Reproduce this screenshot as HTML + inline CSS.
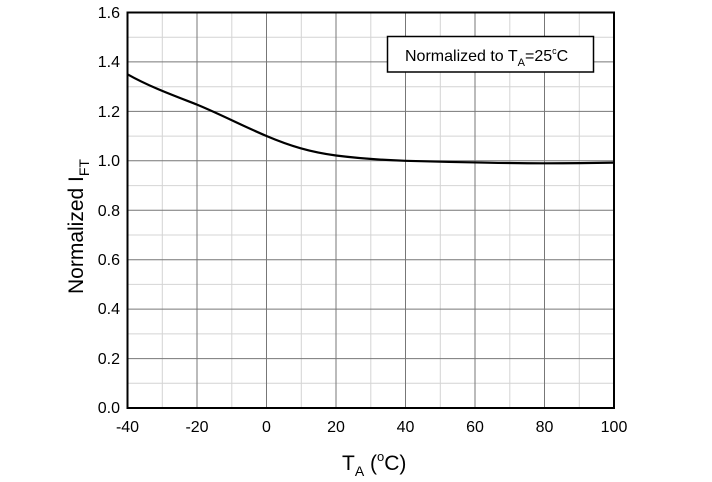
<!DOCTYPE html>
<html><head><style>body{margin:0;background:#fff}svg{display:block}</style></head><body>
<svg width="712" height="482" xmlns="http://www.w3.org/2000/svg" font-family="Liberation Sans, Arial, sans-serif">
<g stroke="#d4d4d4" stroke-width="1">
<line x1="162.3" y1="12.5" x2="162.3" y2="408"/><line x1="231.8" y1="12.5" x2="231.8" y2="408"/><line x1="301.3" y1="12.5" x2="301.3" y2="408"/><line x1="370.8" y1="12.5" x2="370.8" y2="408"/><line x1="440.3" y1="12.5" x2="440.3" y2="408"/><line x1="509.8" y1="12.5" x2="509.8" y2="408"/><line x1="579.3" y1="12.5" x2="579.3" y2="408"/>
<line x1="127.5" y1="37.2" x2="614" y2="37.2"/><line x1="127.5" y1="86.7" x2="614" y2="86.7"/><line x1="127.5" y1="136.1" x2="614" y2="136.1"/><line x1="127.5" y1="185.6" x2="614" y2="185.6"/><line x1="127.5" y1="235" x2="614" y2="235"/><line x1="127.5" y1="284.4" x2="614" y2="284.4"/><line x1="127.5" y1="333.9" x2="614" y2="333.9"/><line x1="127.5" y1="383.3" x2="614" y2="383.3"/>
</g>
<g stroke="#777" stroke-width="1">
<line x1="197" y1="12.5" x2="197" y2="408"/><line x1="266.5" y1="12.5" x2="266.5" y2="408"/><line x1="336" y1="12.5" x2="336" y2="408"/><line x1="405.5" y1="12.5" x2="405.5" y2="408"/><line x1="475" y1="12.5" x2="475" y2="408"/><line x1="544.5" y1="12.5" x2="544.5" y2="408"/>
<line x1="127.5" y1="61.9" x2="614" y2="61.9"/><line x1="127.5" y1="111.4" x2="614" y2="111.4"/><line x1="127.5" y1="160.8" x2="614" y2="160.8"/><line x1="127.5" y1="210.3" x2="614" y2="210.3"/><line x1="127.5" y1="259.7" x2="614" y2="259.7"/><line x1="127.5" y1="309.1" x2="614" y2="309.1"/><line x1="127.5" y1="358.6" x2="614" y2="358.6"/>
</g>
<rect x="127.5" y="12.5" width="486.5" height="395.5" fill="none" stroke="#000" stroke-width="2"/>
<path d="M127.5,74.3 C150,87 175,96 197,104.6 C220,114 245,127 266.5,136 C290,146 310,152 336,155.5 C360,158.5 380,160 405.5,160.8 C450,162 500,163.3 544.5,163.3 C575,163.3 595,163 614,162.6" fill="none" stroke="#000" stroke-width="2.2"/>
<rect x="387.5" y="36.5" width="206" height="35.5" fill="#fff" stroke="#000" stroke-width="1.5"/>
<text x="405" y="61" font-size="16">Normalized to T<tspan font-size="11" dy="5">A</tspan><tspan dy="-5">=25</tspan><tspan font-size="9" dy="-7">c</tspan><tspan dy="7">C</tspan></text>
<g font-size="16" text-anchor="end">
<text x="120" y="18">1.6</text><text x="120" y="67">1.4</text><text x="120" y="117">1.2</text><text x="120" y="166">1.0</text><text x="120" y="216">0.8</text><text x="120" y="265">0.6</text><text x="120" y="314">0.4</text><text x="120" y="364">0.2</text><text x="120" y="413">0.0</text>
</g>
<g font-size="16" text-anchor="middle">
<text x="127.5" y="432">-40</text><text x="197" y="432">-20</text><text x="266.5" y="432">0</text><text x="336" y="432">20</text><text x="405.5" y="432">40</text><text x="475" y="432">60</text><text x="544.5" y="432">80</text><text x="614" y="432">100</text>
</g>
<text x="342" y="470" font-size="21">T<tspan font-size="14" dy="6">A</tspan><tspan dy="-6"> (</tspan><tspan font-size="13" dy="-9">o</tspan><tspan dy="9">C)</tspan></text>
<text transform="translate(83,294) rotate(-90)" font-size="21">Normalized I<tspan font-size="14" dy="6">FT</tspan></text>
</svg>
</body></html>
